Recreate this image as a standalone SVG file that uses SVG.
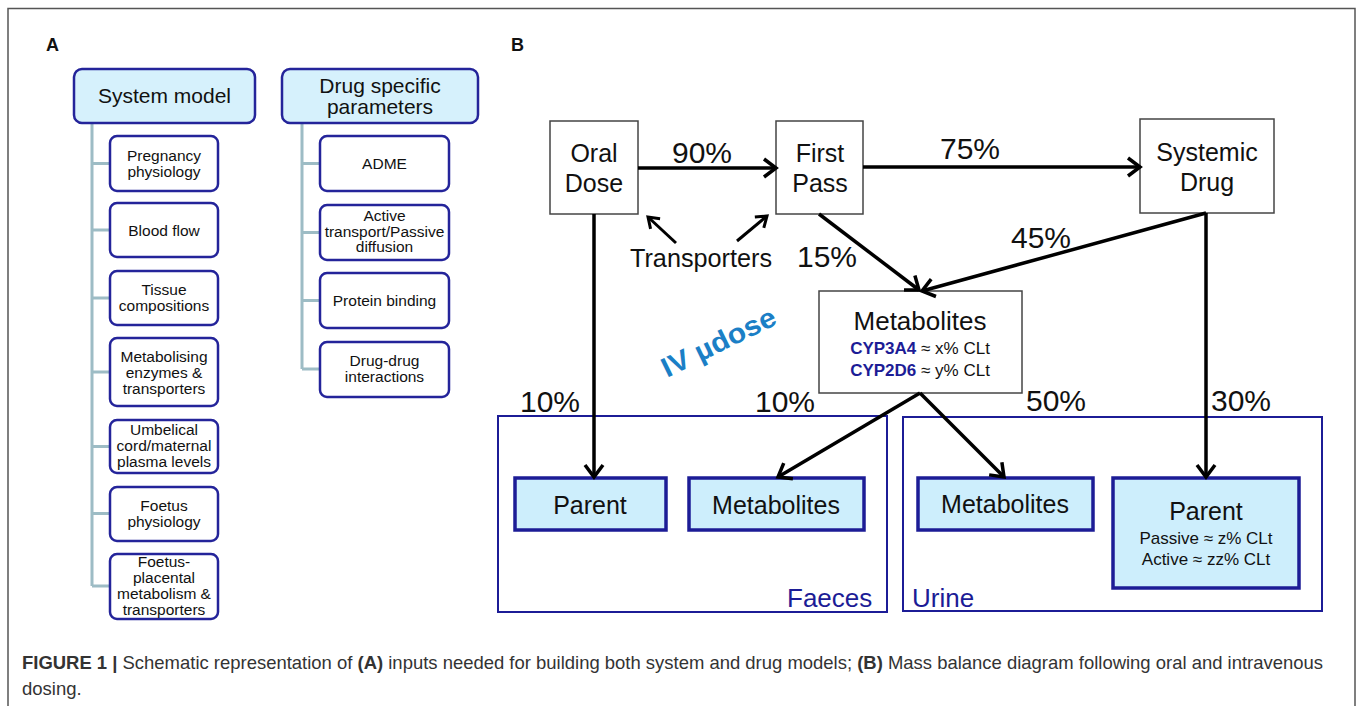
<svg xmlns="http://www.w3.org/2000/svg" width="1358" height="706" viewBox="0 0 1358 706">
<defs>
<style>
text{font-family:"Liberation Sans",Arial,sans-serif;fill:#111}
.hdr{fill:#d6f1fc;stroke:#24249a;stroke-width:2.5}
.chd{fill:#fff;stroke:#24249a;stroke-width:2.5}
.t21{font-size:21px;text-anchor:middle}
.t15{font-size:15.5px;text-anchor:middle}
.tree{fill:none;stroke:#9dbcc5;stroke-width:3}
.bx{fill:#fff;stroke:#444;stroke-width:1.5}
.lb{font-size:25px;text-anchor:middle}
.pct{font-size:30px}
.comp{fill:none;stroke:#1c1c96;stroke-width:2}
.res{fill:#cdeefc;stroke:#1c1c96;stroke-width:3.5}
.blue{fill:#1c1c96}
.arr{fill:none;stroke:#000;stroke-width:3.5;marker-end:url(#ah)}
.arrs{fill:none;stroke:#000;stroke-width:3;marker-end:url(#ahs)}
.cap{font-size:18.5px;fill:#333}
</style>
<marker id="ah" markerUnits="userSpaceOnUse" markerWidth="24" markerHeight="24" viewBox="0 0 24 24" refX="20" refY="12" orient="auto">
<path d="M8,3 L20,12 L8,21" fill="none" stroke="#000" stroke-width="3.5"/>
</marker>
<marker id="ahs" markerUnits="userSpaceOnUse" markerWidth="20" markerHeight="20" viewBox="0 0 20 20" refX="17" refY="10" orient="auto">
<path d="M7,3 L17,10 L7,17" fill="none" stroke="#000" stroke-width="3"/>
</marker>
</defs>
<rect width="1358" height="706" fill="#fff"/>
<path d="M8,706 V8.5 H1355 V706" fill="none" stroke="#555" stroke-width="1.5"/>

<text x="46" y="51" font-size="18" font-weight="bold">A</text>
<text x="511" y="51" font-size="18" font-weight="bold">B</text>

<!-- Panel A trees -->
<g id="tree-lines">
<path class="tree" d="M92,123 V586 M92,163.5 H110 M92,230 H110 M92,298 H110 M92,372 H110 M92,446.5 H110 M92,513.5 H110 M92,586 H110"/>
<path class="tree" d="M302,123 V369 M302,163.5 H320 M302,232.5 H320 M302,300.5 H320 M302,369 H320"/>
</g>
<g id="system-model"><rect class="hdr" x="74" y="69" width="181" height="54" rx="8"/><text class="t21" x="164.5" y="103">System model</text></g>
<g id="pregnancy"><rect class="chd" x="110" y="136" width="108" height="55" rx="7"/><text class="t15" x="164" y="161">Pregnancy<tspan x="164" dy="16">physiology</tspan></text></g>
<g id="blood-flow"><rect class="chd" x="110" y="203" width="108" height="54" rx="7"/><text class="t15" x="164" y="236">Blood flow</text></g>
<g id="tissue"><rect class="chd" x="110" y="271" width="108" height="54" rx="7"/><text class="t15" x="164" y="295">Tissue<tspan x="164" dy="16">compositions</tspan></text></g>
<g id="metabolising"><rect class="chd" x="110" y="338" width="108" height="68" rx="7"/><text class="t15" x="164" y="362">Metabolising<tspan x="164" dy="16">enzymes &amp;</tspan><tspan x="164" dy="16">transporters</tspan></text></g>
<g id="umbelical"><rect class="chd" x="110" y="420" width="108" height="53" rx="7"/><text class="t15" x="164" y="435">Umbelical<tspan x="164" dy="16">cord/maternal</tspan><tspan x="164" dy="16">plasma levels</tspan></text></g>
<g id="foetus-phys"><rect class="chd" x="110" y="487" width="108" height="54" rx="7"/><text class="t15" x="164" y="511">Foetus<tspan x="164" dy="16">physiology</tspan></text></g>
<g id="foetus-plac"><rect class="chd" x="110" y="554" width="108" height="65" rx="7"/><text class="t15" x="164" y="567">Foetus-<tspan x="164" dy="16">placental</tspan><tspan x="164" dy="16">metabolism &amp;</tspan><tspan x="164" dy="16">transporters</tspan></text></g>

<g id="drug-params"><rect class="hdr" x="282" y="69" width="196" height="54" rx="8"/><text class="t21" x="380" y="93">Drug specific<tspan x="380" dy="21">parameters</tspan></text></g>
<g id="adme"><rect class="chd" x="320" y="136" width="129" height="55" rx="7"/><text class="t15" x="384.5" y="169">ADME</text></g>
<g id="active-transport"><rect class="chd" x="320" y="205" width="129" height="55" rx="7"/><text class="t15" x="384.5" y="221">Active<tspan x="384.5" dy="15.5">transport/Passive</tspan><tspan x="384.5" dy="15.5">diffusion</tspan></text></g>
<g id="protein-binding"><rect class="chd" x="320" y="273" width="129" height="55" rx="7"/><text class="t15" x="384.5" y="306">Protein binding</text></g>
<g id="ddi"><rect class="chd" x="320" y="342" width="129" height="55" rx="7"/><text class="t15" x="384.5" y="366">Drug-drug<tspan x="384.5" dy="15.5">interactions</tspan></text></g>

<!-- Panel B -->
<g id="faeces"><rect class="comp" x="498" y="416" width="389" height="196"/><text x="787" y="607" font-size="26" class="blue">Faeces</text></g>
<g id="urine"><rect class="comp" x="903" y="417" width="419" height="194"/><text x="912" y="607" font-size="26" class="blue">Urine</text></g>

<g id="oral-dose"><rect class="bx" x="550" y="121" width="88" height="93"/><text class="lb" x="594" y="162">Oral<tspan x="594" dy="30">Dose</tspan></text></g>
<g id="first-pass"><rect class="bx" x="776" y="121" width="87" height="93"/><text class="lb" x="820" y="162">First<tspan x="820" dy="30">Pass</tspan></text></g>
<g id="systemic-drug"><rect class="bx" x="1140" y="119" width="134" height="94"/><text class="lb" x="1207" y="161" font-size="26">Systemic<tspan x="1207" dy="30">Drug</tspan></text></g>
<g id="metabolites-mid"><rect class="bx" x="819" y="291" width="203" height="102"/>
<text x="920" y="330" font-size="26" text-anchor="middle">Metabolites</text>
<text x="920" y="354" font-size="17" text-anchor="middle"><tspan font-weight="bold" class="blue">CYP3A4</tspan> ≈ x% CLt</text>
<text x="920" y="376" font-size="17" text-anchor="middle"><tspan font-weight="bold" class="blue">CYP2D6</tspan> ≈ y% CLt</text></g>

<g id="parent-faeces"><rect class="res" x="515" y="478" width="151" height="52"/><text class="lb" x="590" y="514" font-size="26">Parent</text></g>
<g id="metab-faeces"><rect class="res" x="689" y="478" width="175" height="52"/><text class="lb" x="776" y="514" font-size="26">Metabolites</text></g>
<g id="metab-urine"><rect class="res" x="918" y="478" width="175" height="52"/><text class="lb" x="1005" y="513" font-size="26">Metabolites</text></g>
<g id="parent-urine"><rect class="res" x="1113" y="478" width="186" height="110"/><text class="lb" x="1206" y="520" font-size="26">Parent</text>
<text x="1206" y="544" font-size="17" text-anchor="middle">Passive ≈ z% CLt</text>
<text x="1206" y="565" font-size="17" text-anchor="middle">Active ≈ zz% CLt</text></g>

<text x="667" y="378" font-size="28" font-weight="bold" style="fill:#1b7fc6" transform="rotate(-26 667 378)" textLength="124" lengthAdjust="spacingAndGlyphs">IV µdose</text>

<g id="connectors">
<line class="arr" x1="638" y1="168" x2="776" y2="168"/>
<line class="arr" x1="863" y1="167" x2="1140" y2="167"/>
<line class="arrs" x1="676" y1="243" x2="648" y2="217"/>
<line class="arrs" x1="737" y1="241" x2="767" y2="216"/>
<line class="arr" x1="819" y1="214" x2="919" y2="290"/>
<line class="arr" x1="1206" y1="213" x2="922" y2="291"/>
<line class="arr" x1="594" y1="214" x2="594" y2="477"/>
<line class="arr" x1="1206" y1="213" x2="1206" y2="477"/>
<line class="arr" x1="920" y1="393" x2="778" y2="477"/>
<line class="arr" x1="920" y1="393" x2="1004" y2="477"/>
</g>
<g id="labels">
<text class="pct" x="672" y="163">90%</text>
<text class="pct" x="940" y="159">75%</text>
<text class="pct" x="1011" y="248">45%</text>
<text class="pct" x="797" y="267">15%</text>
<text x="630" y="267" font-size="25" textLength="142" lengthAdjust="spacingAndGlyphs">Transporters</text>
<text class="pct" x="520" y="412">10%</text>
<text class="pct" x="755" y="412">10%</text>
<text class="pct" x="1026" y="411">50%</text>
<text class="pct" x="1211" y="411">30%</text>
</g>

<text class="cap" x="22" y="669" textLength="1301" lengthAdjust="spacingAndGlyphs"><tspan font-weight="bold">FIGURE 1 |</tspan> Schematic representation of <tspan font-weight="bold">(A)</tspan> inputs needed for building both system and drug models; <tspan font-weight="bold">(B)</tspan> Mass balance diagram following oral and intravenous</text>
<text class="cap" x="22" y="695">dosing.</text>
</svg>
